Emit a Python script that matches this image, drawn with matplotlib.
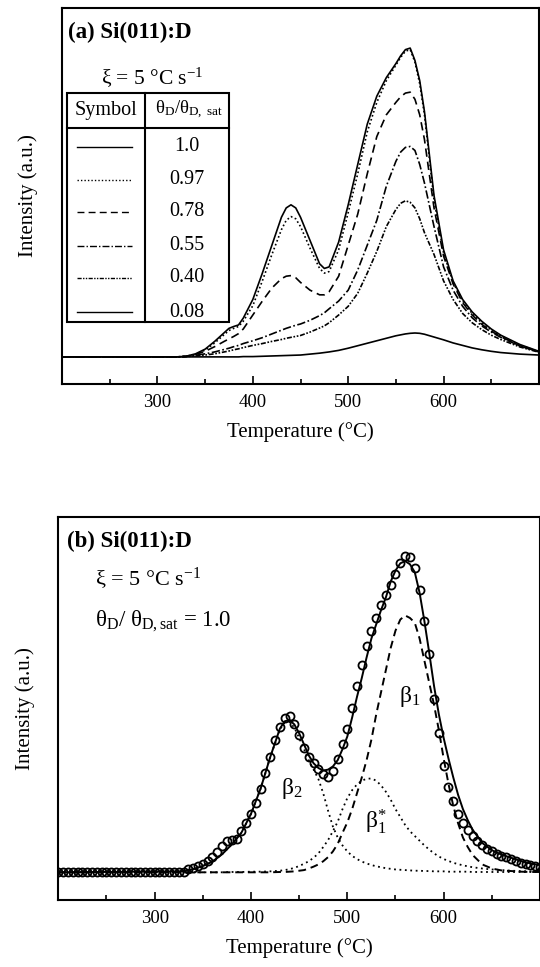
import matplotlib
matplotlib.use("Agg")
import matplotlib.pyplot as plt
from matplotlib.patches import Rectangle

plt.rcParams['font.family'] = ['Liberation Serif', 'DejaVu Serif']
plt.rcParams['mathtext.fontset'] = 'custom'
plt.rcParams['mathtext.rm'] = 'Liberation Serif'
plt.rcParams['mathtext.it'] = 'Liberation Serif:italic'
plt.rcParams['mathtext.bf'] = 'Liberation Serif:bold'

# ---- panel (a): TPD spectra for several initial coverages ----
temp_a = [200, 320, 330, 340, 350, 360, 370, 375, 380, 385, 390, 400, 410, 420, 430,
          435, 440, 445, 450, 460, 470, 475, 480, 490, 500, 510, 520, 530, 540, 550,
          555, 560, 565, 570, 575, 580, 590, 600, 610, 620, 630, 640, 650, 660, 680, 700]

int_100 = [0, 0, 0.002, 0.01, 0.025, 0.05, 0.078, 0.092, 0.098, 0.103, 0.125, 0.185, 0.27, 0.36, 0.45,
           0.48, 0.49, 0.48, 0.45, 0.375, 0.30, 0.285, 0.29, 0.37, 0.49, 0.62, 0.75, 0.84, 0.90, 0.945,
           0.97, 0.99, 0.995, 0.955, 0.89, 0.79, 0.52, 0.345, 0.245, 0.185, 0.145, 0.115, 0.09, 0.07, 0.04, 0.018]
int_097 = [0, 0, 0.002, 0.009, 0.022, 0.045, 0.072, 0.085, 0.092, 0.098, 0.115, 0.165, 0.245, 0.33, 0.41,
           0.44, 0.452, 0.445, 0.42, 0.35, 0.285, 0.27, 0.275, 0.345, 0.465, 0.59, 0.725, 0.82, 0.89, 0.94,
           0.965, 0.985, 0.99, 0.95, 0.88, 0.78, 0.505, 0.335, 0.24, 0.18, 0.14, 0.11, 0.087, 0.068, 0.038, 0.017]
int_078 = [0, 0, 0.002, 0.008, 0.018, 0.033, 0.05, 0.058, 0.066, 0.075, 0.09, 0.135, 0.18, 0.222, 0.252,
           0.26, 0.262, 0.255, 0.24, 0.215, 0.20, 0.20, 0.21, 0.26, 0.36, 0.46, 0.59, 0.71, 0.78, 0.82,
           0.838, 0.85, 0.853, 0.83, 0.78, 0.70, 0.48, 0.325, 0.235, 0.175, 0.135, 0.105, 0.083, 0.065, 0.036, 0.016]
int_055 = [0, 0, 0.001, 0.005, 0.01, 0.016, 0.024, 0.028, 0.033, 0.037, 0.043, 0.052, 0.062, 0.074, 0.086,
           0.092, 0.097, 0.102, 0.106, 0.118, 0.133, 0.142, 0.155, 0.18, 0.215, 0.28, 0.36, 0.44, 0.55, 0.63,
           0.66, 0.675, 0.678, 0.665, 0.62, 0.56, 0.42, 0.29, 0.215, 0.163, 0.126, 0.1, 0.08, 0.063, 0.035, 0.016]
int_040 = [0, 0, 0.001, 0.003, 0.006, 0.01, 0.016, 0.019, 0.023, 0.026, 0.03, 0.037, 0.043, 0.05, 0.056,
           0.06, 0.063, 0.066, 0.069, 0.08, 0.093, 0.10, 0.11, 0.135, 0.163, 0.205, 0.27, 0.34, 0.42, 0.475,
           0.495, 0.503, 0.498, 0.48, 0.445, 0.40, 0.33, 0.245, 0.185, 0.14, 0.11, 0.088, 0.07, 0.056, 0.032, 0.015]
int_008 = [0, 0, 0, 0, 0, 0, 0, 0, 0, 0, 0.001, 0.001, 0.002, 0.003, 0.004,
           0.0045, 0.005, 0.0055, 0.006, 0.009, 0.012, 0.014, 0.016, 0.021, 0.028, 0.036, 0.044, 0.052, 0.06, 0.068,
           0.071, 0.074, 0.076, 0.077, 0.076, 0.073, 0.064, 0.055, 0.045, 0.037, 0.029, 0.023, 0.018, 0.014, 0.009, 0.006]

coverage_labels = ['1.0', '0.97', '0.78', '0.55', '0.40', '0.08']

# ---- panel (b): measured points, fit and components ----
temp_data = list(range(200, 705, 5))
tpd_data = [0] * 27 + [
    0.01, 0.015, 0.02, 0.027, 0.035, 0.047, 0.063, 0.082, 0.098, 0.103,
    0.106, 0.13, 0.155, 0.185, 0.22, 0.265, 0.315, 0.365, 0.42, 0.46,
    0.488, 0.495, 0.47, 0.434, 0.392, 0.365, 0.345, 0.326, 0.311, 0.303,
    0.322, 0.36, 0.405, 0.455, 0.52, 0.59, 0.655, 0.715, 0.765, 0.805,
    0.845, 0.878, 0.91, 0.943, 0.98, 1.0, 0.998, 0.963, 0.895, 0.795,
    0.69, 0.55, 0.44, 0.335, 0.27, 0.225, 0.183, 0.155, 0.135, 0.115,
    0.099, 0.085, 0.074, 0.066, 0.059, 0.053, 0.047, 0.041, 0.035, 0.03,
    0.026, 0.022, 0.019, 0.017]

temp_b = [200, 330, 340, 350, 360, 370, 380, 390, 400, 410, 420, 430, 435, 440, 445,
          450, 455, 460, 465, 470, 475, 480, 485, 490, 495, 500, 505, 510, 515, 520,
          525, 530, 535, 540, 545, 550, 555, 560, 565, 570, 575, 580, 585, 590, 595,
          600, 605, 610, 615, 620, 625, 630, 640, 650, 660, 670, 680, 690, 700]

fit_total = [0, 0.003, 0.01, 0.02, 0.034, 0.057, 0.088, 0.125, 0.185, 0.265, 0.365, 0.455, 0.478, 0.482, 0.468,
             0.44, 0.405, 0.37, 0.345, 0.33, 0.322, 0.325, 0.335, 0.355, 0.39, 0.43, 0.49, 0.555, 0.615, 0.68,
             0.74, 0.785, 0.83, 0.87, 0.92, 0.955, 0.978, 0.985, 0.975, 0.95, 0.885, 0.795, 0.695, 0.59, 0.5,
             0.425, 0.36, 0.3, 0.245, 0.2, 0.165, 0.135, 0.093, 0.07, 0.056, 0.046, 0.036, 0.028, 0.023]
fit_beta2 = [0, 0.003, 0.01, 0.02, 0.034, 0.057, 0.088, 0.125, 0.185, 0.265, 0.365, 0.452, 0.474, 0.476, 0.458,
             0.425, 0.39, 0.355, 0.325, 0.295, 0.25, 0.195, 0.145, 0.11, 0.085, 0.066, 0.052, 0.042, 0.034, 0.028,
             0.023, 0.019, 0.016, 0.013, 0.011, 0.009, 0.008, 0.007, 0.006, 0.005, 0.005, 0.004, 0.004, 0.003, 0.003,
             0.003, 0.002, 0.002, 0.002, 0.002, 0.002, 0.001, 0.001, 0.001, 0.001, 0.001, 0.001, 0.001, 0.001]
fit_beta1s = [0, 0, 0, 0, 0, 0, 0.001, 0.001, 0.002, 0.002, 0.003, 0.005, 0.007, 0.01, 0.014,
              0.02, 0.027, 0.035, 0.046, 0.06, 0.08, 0.102, 0.13, 0.16, 0.2, 0.235, 0.26, 0.278, 0.29, 0.296,
              0.297, 0.29, 0.275, 0.255, 0.23, 0.2, 0.175, 0.15, 0.13, 0.115, 0.1, 0.085, 0.072, 0.06, 0.05,
              0.042, 0.036, 0.03, 0.026, 0.022, 0.019, 0.016, 0.012, 0.009, 0.007, 0.005, 0.004, 0.003, 0.003]
fit_beta1 = [0, 0, 0, 0, 0, 0, 0, 0, 0, 0, 0, 0.001, 0.001, 0.002, 0.003,
             0.005, 0.007, 0.012, 0.018, 0.025, 0.035, 0.048, 0.066, 0.09, 0.125, 0.158, 0.2, 0.25, 0.3, 0.355,
             0.42, 0.5, 0.57, 0.64, 0.71, 0.765, 0.8, 0.813, 0.805, 0.79, 0.74, 0.67, 0.6, 0.53, 0.45,
             0.36, 0.28, 0.21, 0.155, 0.11, 0.08, 0.055, 0.025, 0.012, 0.006, 0.004, 0.002, 0.001, 0.001]


def style_axes(ax):
    ax.set_xlim(200, 700)
    ax.set_ylim(-0.087, 1.125)
    ax.set_xticks([300, 400, 500, 600])
    ax.set_xticks([250, 350, 450, 550, 650], minor=True)
    ax.set_yticks([])
    ax.tick_params(axis='x', which='major', direction='in', length=6, width=1.2,
                   labelsize=13.5, pad=7)
    ax.tick_params(axis='x', which='minor', direction='in', length=3.5, width=1.2)
    for spine in ax.spines.values():
        spine.set_linewidth(1.5)
    ax.set_xlabel('Temperature (°C)', fontsize=15, labelpad=8)
    ax.set_ylabel('Intensity (a.u.)', fontsize=15, labelpad=17)


def plot_panel_a(ax):
    series = [int_100, int_097, int_078, int_055, int_040, int_008]
    styles = ['-', (0, (1, 1.5)), (0, (5, 3)), (0, (5, 1.5, 1, 1.5)),
              (0, (3, 1, 1, 1, 1, 1)), '-']
    for vals, ls in zip(series, styles):
        ax.plot(temp_a, vals, color='black', linestyle=ls, linewidth=1.2)

    style_axes(ax)
    ax.text(0.013, 0.934, '(a) Si(011):D', transform=ax.transAxes, fontsize=16.5,
            fontweight='bold', va='center', ha='left')
    ax.text(0.19, 0.814, r'ξ = 5 °C s$^{-1}$', transform=ax.transAxes, fontsize=15.5,
            va='center', ha='center')

    # table with line symbols
    x0, x1, xm = 0.0105, 0.35, 0.174
    y0, y1, yh = 0.165, 0.774, 0.681
    ax.add_patch(Rectangle((x0, y0), x1 - x0, y1 - y0, transform=ax.transAxes,
                           fill=False, edgecolor='black', linewidth=1.5))
    ax.plot([x0, x1], [yh, yh], color='black', linewidth=1.5, transform=ax.transAxes)
    ax.plot([xm, xm], [y0, y1], color='black', linewidth=1.5, transform=ax.transAxes)
    ax.text((x0 + xm) / 2, 0.728, 'Symbol', transform=ax.transAxes, fontsize=14.5,
            ha='center', va='center')
    ax.text((xm + x1) / 2 + 0.003, 0.728, r'$\mathrm{θ_{D}/θ_{D,\ sat}}$',
            transform=ax.transAxes, fontsize=13.5, ha='center', va='center')
    row_y = [0.630, 0.543, 0.457, 0.367, 0.282, 0.191]
    for y, lab, ls in zip(row_y, coverage_labels, styles):
        ax.plot([0.031, 0.147], [y, y], color='black', linestyle=ls, linewidth=1.0,
                transform=ax.transAxes)
        ax.text(0.262, y, lab, transform=ax.transAxes, fontsize=14.5,
                ha='center', va='center')


def plot_panel_b(ax):
    ax.plot(temp_b, fit_beta2, color='black', linestyle=(0, (1, 2)), linewidth=1.3)
    ax.plot(temp_b, fit_beta1s, color='black', linestyle=(0, (1, 2)), linewidth=1.3)
    ax.plot(temp_b, fit_beta1, color='black', linestyle=(0, (4, 2.5)), linewidth=1.4)
    ax.plot(temp_data, tpd_data, linestyle='none', marker='o', markersize=5.8,
            markerfacecolor='none', markeredgecolor='black', markeredgewidth=1.3)
    ax.plot(temp_b, fit_total, color='black', linestyle='-', linewidth=1.4)

    style_axes(ax)
    ax.text(0.018, 0.936, '(b) Si(011):D', transform=ax.transAxes, fontsize=16.5,
            fontweight='bold', va='center', ha='left')
    ax.text(0.076, 0.837, r'ξ = 5 °C s$^{-1}$', transform=ax.transAxes, fontsize=16,
            va='center', ha='left')
    ax.text(0.076, 0.727, r'$\mathrm{θ_{D}/\ θ_{D,sat}}$ = 1.0', transform=ax.transAxes,
            fontsize=16.5, va='center', ha='left')
    ax.text(442, 0.266, r'$\mathrm{β_{2}}$', fontsize=17, ha='center', va='center')
    ax.text(565, 0.555, r'$\mathrm{β_{1}}$', fontsize=17, ha='center', va='center')
    ax.text(530, 0.16, r'$\mathrm{β_{1}^{*}}$', fontsize=17, ha='center', va='center')


fig = plt.figure(figsize=(5.4, 9.67), dpi=100)
ax_a = fig.add_axes([0.115, 0.603, 0.883, 0.389])
ax_b = fig.add_axes([0.108, 0.0695, 0.892, 0.396])

plot_panel_a(ax_a)
plot_panel_b(ax_b)

fig.savefig('out.png', dpi=100)
plt.close(fig)
